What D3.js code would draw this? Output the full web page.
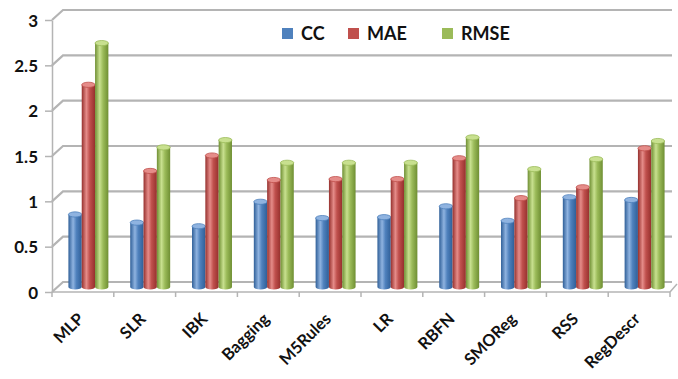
<!DOCTYPE html>
<html>
<head>
<meta charset="utf-8">
<script src="https://cdn.jsdelivr.net/npm/d3@7"></script>
<style>
  html, body { margin: 0; padding: 0; background: #fff; }
  svg { display: block; }
  text { font-family: Lato, "Open Sans", sans-serif; font-weight: 700; fill: #111; }
</style>
</head>
<body>
<svg id="chart" width="678" height="379"></svg>
<script>
// Model comparison: correlation coefficient and error measures
const categories = ["MLP", "SLR", "IBK", "Bagging", "M5Rules", "LR", "RBFN", "SMOReg", "RSS", "RegDescr"];
const seriesNames = ["CC", "MAE", "RMSE"];
const ccValues   = [0.80, 0.71, 0.67, 0.94, 0.76, 0.77, 0.89, 0.73, 0.99, 0.96];
const maeValues  = [2.23, 1.28, 1.45, 1.18, 1.19, 1.19, 1.42, 0.98, 1.10, 1.53];
const rmseValues = [2.69, 1.54, 1.62, 1.37, 1.37, 1.37, 1.65, 1.30, 1.41, 1.61];
const yTicks = [0, 0.5, 1, 1.5, 2, 2.5, 3];
const yTickLabels = ["0", "0.5", "1", "1.5", "2", "2.5", "3"];

const seriesValues = [ccValues, maeValues, rmseValues];
const colors = {
  CC:   { dark: "#2f5f98", mid: "#4f81bd", light: "#8fb3e0" },
  MAE:  { dark: "#96302d", mid: "#c0504d", light: "#e58c89" },
  RMSE: { dark: "#6f8f33", mid: "#9bbb59", light: "#c8e08f" }
};

const svg = d3.select("#chart");

// Oblique 3D frame: front edge and back wall offsets
const front = { left: 52, right: 670, zero: 292, top: 20 };
const wall = { dx: 11, dy: -10 };      // back wall offset
const depth = { dx: 5.5, dy: -5 };     // bars sit halfway into the floor

const x = d3.scaleBand().domain(categories).range([front.left, front.right]);
const xs = d3.scaleBand().domain(seriesNames).range([0, x.bandwidth()])
  .paddingInner(0).paddingOuter(0.82);
const y = d3.scaleLinear().domain([0, 3]).range([front.zero, front.top]);

// gradients for cylinder shading
const defs = svg.append("defs");
seriesNames.forEach(s => {
  const g = defs.append("linearGradient").attr("id", "grad-" + s)
    .attr("x1", 0).attr("x2", 1).attr("y1", 0).attr("y2", 0);
  g.append("stop").attr("offset", "0%").attr("stop-color", colors[s].dark);
  g.append("stop").attr("offset", "35%").attr("stop-color", colors[s].light);
  g.append("stop").attr("offset", "60%").attr("stop-color", colors[s].mid);
  g.append("stop").attr("offset", "100%").attr("stop-color", colors[s].dark);
});

const gridColor = "#b4b4b4";

// back wall gridlines with the diagonal run along the left wall
svg.append("g").selectAll("path").data(yTicks).join("path")
  .attr("d", v => `M${front.left},${y(v)} L${front.left + wall.dx},${y(v) + wall.dy} L${front.right + 2},${y(v) + wall.dy}`)
  .attr("fill", "none").attr("stroke", gridColor).attr("stroke-width", 2.2);

// floor right edge
svg.append("path")
  .attr("d", `M${front.right},${y(0)} L${front.right + 7},${y(0) + wall.dy + 2}`)
  .attr("fill", "none").attr("stroke", gridColor).attr("stroke-width", 1.5);

// left (value) axis
const yAxis = d3.axisLeft(y).tickValues(yTicks).tickSize(7).tickSizeOuter(0)
  .tickFormat((d, i) => yTickLabels[i]);
const yg = svg.append("g").attr("transform", `translate(${front.left},0)`).call(yAxis);
yg.select(".domain").attr("stroke", gridColor).attr("stroke-width", 1.5);
yg.selectAll(".tick line").attr("stroke", gridColor).attr("stroke-width", 1.5);
yg.selectAll(".tick text").attr("x", -14).attr("dy", "0.36em")
  .style("font-size", "17px").style("font-family", "Lato, sans-serif").style("font-weight", "700").attr("fill", "#111");

// front floor edge with category boundary ticks
svg.append("line")
  .attr("x1", front.left).attr("x2", front.right)
  .attr("y1", y(0)).attr("y2", y(0))
  .attr("stroke", gridColor).attr("stroke-width", 1.5);
svg.append("g").selectAll("line").data(categories.concat([null])).join("line")
  .attr("x1", c => c === null ? front.right : x(c))
  .attr("x2", c => c === null ? front.right : x(c))
  .attr("y1", y(0)).attr("y2", y(0) + 5)
  .attr("stroke", gridColor).attr("stroke-width", 1.5);

// cylinders
const bars = [];
categories.forEach((c, ci) => {
  seriesNames.forEach((s, si) => {
    bars.push({ cat: c, series: s, value: seriesValues[si][ci] });
  });
});

const bw = xs.bandwidth();
const ry = 2.6;
const barG = svg.append("g").attr("transform", `translate(${depth.dx},${depth.dy})`);
const bar = barG.selectAll("g").data(bars).join("g")
  .attr("transform", d => `translate(${x(d.cat) + xs(d.series)},0)`);

bar.append("path")
  .attr("d", d => {
    const top = y(d.value), bot = y(0);
    return `M0,${top} L0,${bot} A${bw / 2},${ry} 0 0 0 ${bw},${bot} L${bw},${top} Z`;
  })
  .attr("fill", d => `url(#grad-${d.series})`);

bar.append("ellipse")
  .attr("cx", bw / 2).attr("cy", d => y(d.value))
  .attr("rx", bw / 2).attr("ry", ry)
  .attr("fill", d => colors[d.series].light)
  .attr("stroke", d => colors[d.series].mid).attr("stroke-width", 0.8);

// category labels, rotated
svg.append("g").selectAll("text").data(categories).join("text")
  .attr("transform", c => `translate(${x(c) + x.bandwidth() / 2 + 2},${y(0) + 28}) rotate(-45)`)
  .attr("text-anchor", "end")
  .style("font-size", "16.5px")
  .text(c => c);

// legend
const legendX = [282, 348, 442];
const legend = svg.append("g").selectAll("g").data(seriesNames).join("g")
  .attr("transform", (s, i) => `translate(${legendX[i]},28)`);
legend.append("rect").attr("width", 11).attr("height", 11)
  .attr("fill", s => colors[s].mid);
legend.append("text").attr("x", 19).attr("y", 11.5)
  .style("font-size", "18px")
  .text(s => s);
</script>
</body>
</html>
